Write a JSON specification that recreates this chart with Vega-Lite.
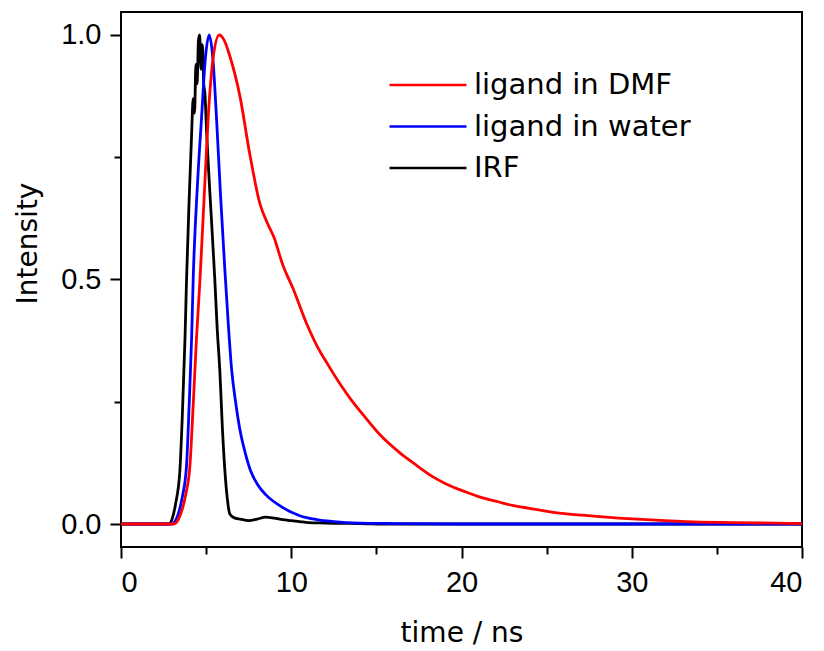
{
  "$schema": "https://vega.github.io/schema/vega-lite/v6.json",
  "autosize": "none",
  "width": 681,
  "height": 535,
  "padding": {"left": 121, "top": 12, "right": 22, "bottom": 104},
  "background": "white",
  "config": {
    "font": "Liberation Sans",
    "view": {"stroke": "black", "strokeWidth": 2},
    "axis": {
      "domain": false,
      "grid": false,
      "tickColor": "black",
      "tickWidth": 2,
      "labelColor": "black",
      "labelFont": "Liberation Sans",
      "labelFontSize": 29,
      "titleFont": "DejaVu Sans",
      "titleFontSize": 28,
      "titleFontWeight": "normal",
      "titleColor": "black"
    },
    "legend": {
      "labelFont": "DejaVu Sans",
      "labelFontSize": 29,
      "labelColor": "black",
      "labelLimit": 500
    }
  },
  "datasets": {
    "curves": [
      {"t": 0, "v": 0, "s": "IRF"},
      {"t": 2.8, "v": 0, "s": "IRF"},
      {"t": 3.0, "v": 0.01, "s": "IRF"},
      {"t": 3.2, "v": 0.04, "s": "IRF"},
      {"t": 3.46, "v": 0.11, "s": "IRF"},
      {"t": 3.6, "v": 0.22, "s": "IRF"},
      {"t": 3.76, "v": 0.38, "s": "IRF"},
      {"t": 3.85, "v": 0.5, "s": "IRF"},
      {"t": 4.0, "v": 0.66, "s": "IRF"},
      {"t": 4.15, "v": 0.8, "s": "IRF"},
      {"t": 4.24, "v": 0.87, "s": "IRF"},
      {"t": 4.32, "v": 0.84, "s": "IRF"},
      {"t": 4.4, "v": 0.94, "s": "IRF"},
      {"t": 4.47, "v": 0.9, "s": "IRF"},
      {"t": 4.55, "v": 0.99, "s": "IRF"},
      {"t": 4.62, "v": 1.0, "s": "IRF"},
      {"t": 4.7, "v": 0.93, "s": "IRF"},
      {"t": 4.78, "v": 0.98, "s": "IRF"},
      {"t": 4.86, "v": 0.9, "s": "IRF"},
      {"t": 4.93, "v": 0.88, "s": "IRF"},
      {"t": 5.03, "v": 0.8, "s": "IRF"},
      {"t": 5.2, "v": 0.69, "s": "IRF"},
      {"t": 5.35, "v": 0.6, "s": "IRF"},
      {"t": 5.51, "v": 0.5, "s": "IRF"},
      {"t": 5.65, "v": 0.4, "s": "IRF"},
      {"t": 5.81, "v": 0.31, "s": "IRF"},
      {"t": 5.95, "v": 0.2, "s": "IRF"},
      {"t": 6.1, "v": 0.11, "s": "IRF"},
      {"t": 6.25, "v": 0.05, "s": "IRF"},
      {"t": 6.4, "v": 0.02, "s": "IRF"},
      {"t": 6.7, "v": 0.012, "s": "IRF"},
      {"t": 7.0, "v": 0.01, "s": "IRF"},
      {"t": 7.5, "v": 0.007, "s": "IRF"},
      {"t": 8.0, "v": 0.01, "s": "IRF"},
      {"t": 8.5, "v": 0.014, "s": "IRF"},
      {"t": 9.0, "v": 0.012, "s": "IRF"},
      {"t": 9.5, "v": 0.009, "s": "IRF"},
      {"t": 10.0, "v": 0.007, "s": "IRF"},
      {"t": 10.5, "v": 0.005, "s": "IRF"},
      {"t": 11.0, "v": 0.003, "s": "IRF"},
      {"t": 12.0, "v": 0.002, "s": "IRF"},
      {"t": 14.0, "v": 0.001, "s": "IRF"},
      {"t": 16.0, "v": 0, "s": "IRF"},
      {"t": 40.0, "v": 0, "s": "IRF"},
      {"t": 0, "v": 0, "s": "ligand in water"},
      {"t": 3.0, "v": 0, "s": "ligand in water"},
      {"t": 3.17, "v": 0.005, "s": "ligand in water"},
      {"t": 3.4, "v": 0.025, "s": "ligand in water"},
      {"t": 3.6, "v": 0.055, "s": "ligand in water"},
      {"t": 3.85, "v": 0.12, "s": "ligand in water"},
      {"t": 4.0, "v": 0.24, "s": "ligand in water"},
      {"t": 4.15, "v": 0.383, "s": "ligand in water"},
      {"t": 4.24, "v": 0.5, "s": "ligand in water"},
      {"t": 4.5, "v": 0.7, "s": "ligand in water"},
      {"t": 4.73, "v": 0.83, "s": "ligand in water"},
      {"t": 4.95, "v": 0.95, "s": "ligand in water"},
      {"t": 5.18, "v": 1.0, "s": "ligand in water"},
      {"t": 5.4, "v": 0.95, "s": "ligand in water"},
      {"t": 5.61, "v": 0.83, "s": "ligand in water"},
      {"t": 5.85, "v": 0.67, "s": "ligand in water"},
      {"t": 6.1, "v": 0.52, "s": "ligand in water"},
      {"t": 6.3, "v": 0.41, "s": "ligand in water"},
      {"t": 6.5, "v": 0.315, "s": "ligand in water"},
      {"t": 6.75, "v": 0.245, "s": "ligand in water"},
      {"t": 7.0, "v": 0.19, "s": "ligand in water"},
      {"t": 7.3, "v": 0.145, "s": "ligand in water"},
      {"t": 7.6, "v": 0.11, "s": "ligand in water"},
      {"t": 8.0, "v": 0.082, "s": "ligand in water"},
      {"t": 8.5, "v": 0.06, "s": "ligand in water"},
      {"t": 9.3, "v": 0.038, "s": "ligand in water"},
      {"t": 10.5, "v": 0.017, "s": "ligand in water"},
      {"t": 11.5, "v": 0.009, "s": "ligand in water"},
      {"t": 12.5, "v": 0.005, "s": "ligand in water"},
      {"t": 14.0, "v": 0.002, "s": "ligand in water"},
      {"t": 16.0, "v": 0.001, "s": "ligand in water"},
      {"t": 20.0, "v": 0, "s": "ligand in water"},
      {"t": 40.0, "v": 0, "s": "ligand in water"},
      {"t": 0, "v": 0, "s": "ligand in DMF"},
      {"t": 3.1, "v": 0, "s": "ligand in DMF"},
      {"t": 3.27, "v": 0.004, "s": "ligand in DMF"},
      {"t": 3.5, "v": 0.02, "s": "ligand in DMF"},
      {"t": 3.8, "v": 0.06, "s": "ligand in DMF"},
      {"t": 4.05, "v": 0.12, "s": "ligand in DMF"},
      {"t": 4.25, "v": 0.25, "s": "ligand in DMF"},
      {"t": 4.44, "v": 0.383, "s": "ligand in DMF"},
      {"t": 4.64, "v": 0.5, "s": "ligand in DMF"},
      {"t": 4.9, "v": 0.68, "s": "ligand in DMF"},
      {"t": 5.12, "v": 0.83, "s": "ligand in DMF"},
      {"t": 5.4, "v": 0.95, "s": "ligand in DMF"},
      {"t": 5.77, "v": 1.0, "s": "ligand in DMF"},
      {"t": 6.05, "v": 0.99, "s": "ligand in DMF"},
      {"t": 6.4, "v": 0.956, "s": "ligand in DMF"},
      {"t": 6.99, "v": 0.874, "s": "ligand in DMF"},
      {"t": 7.57, "v": 0.755, "s": "ligand in DMF"},
      {"t": 8.16, "v": 0.655, "s": "ligand in DMF"},
      {"t": 8.6, "v": 0.615, "s": "ligand in DMF"},
      {"t": 9.0, "v": 0.585, "s": "ligand in DMF"},
      {"t": 9.5, "v": 0.53, "s": "ligand in DMF"},
      {"t": 10.1, "v": 0.482, "s": "ligand in DMF"},
      {"t": 10.9, "v": 0.41, "s": "ligand in DMF"},
      {"t": 11.5, "v": 0.365, "s": "ligand in DMF"},
      {"t": 12.1, "v": 0.329, "s": "ligand in DMF"},
      {"t": 12.8, "v": 0.29, "s": "ligand in DMF"},
      {"t": 13.5, "v": 0.255, "s": "ligand in DMF"},
      {"t": 14.3, "v": 0.22, "s": "ligand in DMF"},
      {"t": 15.2, "v": 0.183, "s": "ligand in DMF"},
      {"t": 16.4, "v": 0.145, "s": "ligand in DMF"},
      {"t": 17.2, "v": 0.124, "s": "ligand in DMF"},
      {"t": 18.3, "v": 0.097, "s": "ligand in DMF"},
      {"t": 19.1, "v": 0.082, "s": "ligand in DMF"},
      {"t": 20.3, "v": 0.065, "s": "ligand in DMF"},
      {"t": 21.1, "v": 0.055, "s": "ligand in DMF"},
      {"t": 22.2, "v": 0.045, "s": "ligand in DMF"},
      {"t": 23.0, "v": 0.038, "s": "ligand in DMF"},
      {"t": 24.0, "v": 0.032, "s": "ligand in DMF"},
      {"t": 25.2, "v": 0.025, "s": "ligand in DMF"},
      {"t": 27.1, "v": 0.018, "s": "ligand in DMF"},
      {"t": 28.5, "v": 0.014, "s": "ligand in DMF"},
      {"t": 30.3, "v": 0.01, "s": "ligand in DMF"},
      {"t": 33.2, "v": 0.005, "s": "ligand in DMF"},
      {"t": 36.0, "v": 0.003, "s": "ligand in DMF"},
      {"t": 40.0, "v": 0.001, "s": "ligand in DMF"}
    ]
  },
  "data": {"name": "curves"},
  "layer": [
    {
      "mark": {"type": "line", "strokeWidth": 2.8, "clip": true, "interpolate": "monotone"},
      "encoding": {
        "x": {
          "field": "t", "type": "quantitative",
          "scale": {"domain": [0, 40], "nice": false, "zero": false},
          "axis": {"orient": "bottom", "values": [0, 10, 20, 30, 40], "tickSize": 11, "labelPadding": 10, "title": "time / ns", "titlePadding": 22}
        },
        "y": {
          "field": "v", "type": "quantitative",
          "scale": {"domain": [-0.047, 1.047], "nice": false, "zero": false},
          "axis": {"orient": "left", "values": [0, 0.5, 1], "format": ".1f", "tickSize": 11, "labelPadding": 9, "title": "Intensity", "titlePadding": 18, "titleY": 231}
        },
        "color": {
          "field": "s", "type": "nominal",
          "scale": {"domain": ["ligand in DMF", "ligand in water", "IRF"], "range": ["#ff0000", "#0000ff", "#000000"]},
          "legend": {
            "title": null,
            "orient": "none",
            "legendX": 267,
            "legendY": 58,
            "symbolType": "stroke",
            "symbolSize": 5929,
            "symbolStrokeWidth": 2.5,
            "clipHeight": 30,
            "rowPadding": 11.5,
            "labelOffset": 6
          }
        },
        "detail": {"field": "s"}
      }
    },
    {
      "mark": {"type": "line", "strokeOpacity": 0},
      "encoding": {
        "x": {
          "field": "t", "type": "quantitative",
          "axis": {"orient": "bottom", "values": [5, 15, 25, 35], "tickSize": 7, "labels": false, "title": null}
        },
        "y": {
          "field": "v", "type": "quantitative",
          "axis": {"orient": "left", "values": [0.25, 0.75], "tickSize": 7, "labels": false, "title": null}
        },
        "detail": {"field": "s"}
      }
    }
  ],
  "resolve": {"axis": {"x": "independent", "y": "independent"}}
}
